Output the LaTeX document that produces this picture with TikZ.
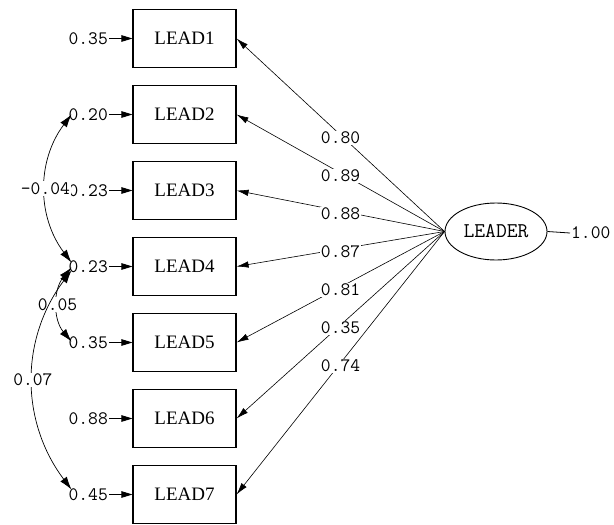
\documentclass[tikz,border=0pt]{standalone}
\usepackage{fontspec}
\setmainfont{Liberation Serif}
\usetikzlibrary{arrows.meta,shapes.geometric}
\begin{document}
\begin{tikzpicture}[x=1pt,y=-1pt,
  indicator/.style={draw,line width=1.1pt,minimum width=103pt,minimum height=58pt,inner sep=0pt,
    font=\fontsize{19}{20}\selectfont},
  latent/.style={draw,ellipse,line width=0.9pt,minimum width=102pt,minimum height=57pt,inner sep=0pt,
    font=\ttfamily\fontsize{21}{22}\selectfont},
  num/.style={font=\ttfamily\fontsize{19}{19}\selectfont,inner sep=1pt},
  errlab/.style={num,anchor=east},
  errarrow/.style={line width=0.8pt,-{Triangle[length=11pt,width=6.5pt]}},
  load/.style={line width=0.6pt,-{Latex[length=12pt,width=6.5pt]}},
  loadlab/.style={num,fill=white,yshift=-3pt},
  cov/.style={line width=0.7pt,{Latex[length=13pt,width=8pt]}-{Latex[length=13pt,width=8pt]}},
  covlab/.style={num,fill=white}]
\useasboundingbox[fill=white] (0,0) rectangle (614,525);

% observed indicators
\node[indicator] (l1) at (184.5,38.5)  {LEAD1};
\node[indicator] (l2) at (184.5,114.5) {LEAD2};
\node[indicator] (l3) at (184.5,190.5) {LEAD3};
\node[indicator] (l4) at (184.5,266.5) {LEAD4};
\node[indicator] (l5) at (184.5,342.5) {LEAD5};
\node[indicator] (l6) at (184.5,418.5) {LEAD6};
\node[indicator] (l7) at (184.5,494.5) {LEAD7};

% latent factor and its variance
\node[latent] (f) at (496,231.5) {LEADER};
\node[num,anchor=west] (fv) at (570,233) {1.00};
\draw[line width=0.8pt] (f.east) -- (fv.west);

% error variances
\node[errlab] (e1) at (109,38.5)  {0.35};
\node[errlab] (e2) at (109,114.5) {0.20};
\node[errlab] (e3) at (109,190.5) {0.23};
\node[errlab] (e4) at (109,266.5) {0.23};
\node[errlab] (e5) at (109,342.5) {0.35};
\node[errlab] (e6) at (109,418.5) {0.88};
\node[errlab] (e7) at (109,494.5) {0.45};
\foreach \i in {1,...,7}
  \draw[errarrow] (e\i.east) -- (l\i.west);

% factor loadings
\draw[load] (f.west) -- node[loadlab]{0.80} (l1.east);
\draw[load] (f.west) -- node[loadlab]{0.89} (l2.east);
\draw[load] (f.west) -- node[loadlab]{0.88} (l3.east);
\draw[load] (f.west) -- node[loadlab]{0.87} (l4.east);
\draw[load] (f.west) -- node[loadlab]{0.81} (l5.east);
\draw[load] (f.west) -- node[loadlab]{0.35} (l6.east);
\draw[load] (f.west) -- node[loadlab]{0.74} (l7.east);

% error covariances
\draw[cov] ([xshift=4pt]e2.west) to[bend right=37] node[covlab]{-0.04} ([xshift=4pt,yshift=4pt]e4.west);
\draw[cov] ([xshift=4pt,yshift=-1pt]e4.west) to[bend right=40] node[covlab]{0.05} ([xshift=4pt,yshift=1pt]e5.west);
\draw[cov] ([xshift=4pt,yshift=-4pt]e4.west) to[bend right=37] node[covlab]{0.07} ([xshift=4pt,yshift=5pt]e7.west);
\end{tikzpicture}
\end{document}
